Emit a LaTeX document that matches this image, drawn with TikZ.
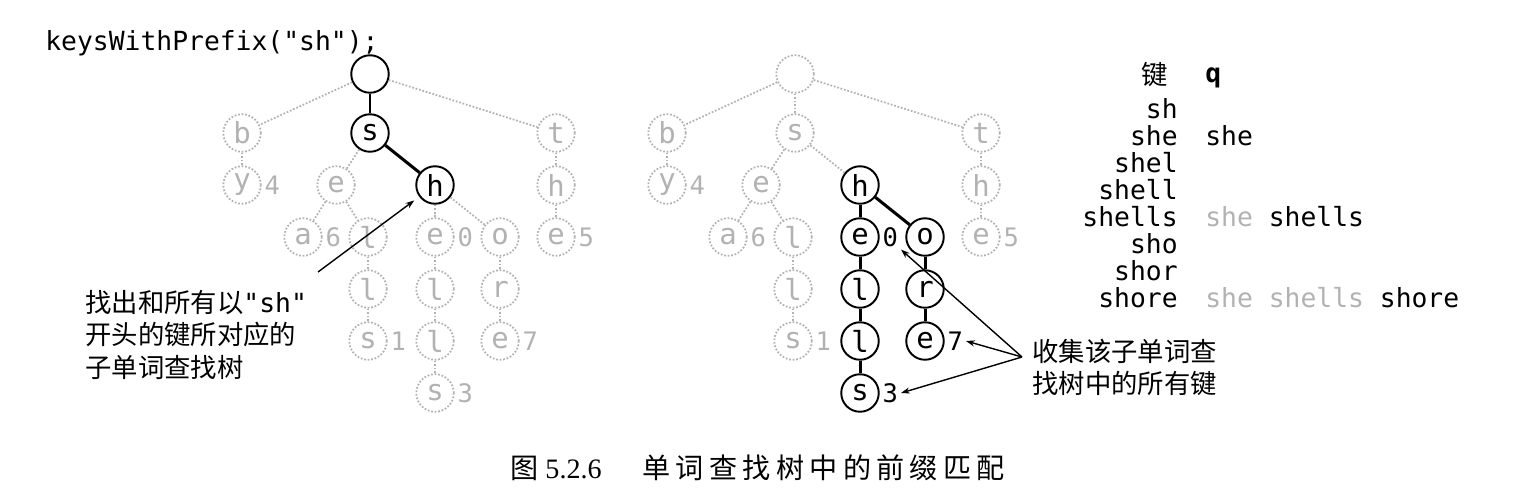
\documentclass[tikz,border=0pt]{standalone}
\usepackage{fontspec}
\setmainfont{Liberation Serif}
\setmonofont{DejaVu Sans Mono}
\newfontfamily\cjk{Noto Sans CJK SC}
\newfontfamily\cjkcap[LetterSpace=19]{Noto Sans CJK SC}
\usepackage{xcolor}
\usetikzlibrary{arrows.meta,positioning}
\definecolor{fadegray}{gray}{0.7}

\begin{document}
\begin{tikzpicture}[x=0.02cm, y=-0.02cm,
    trienode/.style={circle, minimum size=0.75cm, inner sep=0pt, font=\fontsize{16.5}{19}\ttfamily},
    hinode/.style={trienode, draw=black, line width=1.1pt},
    dimnode/.style={trienode, draw=fadegray, densely dotted, line width=1pt, text=fadegray},
    hiedge/.style={line width=1.7pt},
    dimedge/.style={draw=fadegray, densely dotted, line width=1pt},
    hival/.style={inner sep=1.5pt, font=\fontsize{14.5}{17}\ttfamily},
    dimval/.style={hival, text=fadegray},
    pointer/.style={-{Stealth[length=5pt,width=3.5pt]}, line width=0.8pt},
    note/.style={align=left, inner sep=0pt, font=\cjk\fontsize{15}{18.4}\selectfont},
    mono/.style={inner sep=0pt, font=\fontsize{15}{18}\ttfamily}
]
\useasboundingbox (0,0) rectangle (1535,494);

\node[mono, anchor=base west] (call) at (45,50) {keysWithPrefix("sh");};

% left trie: the search goes down to the node for "sh"
\begin{scope}[shift={(370,74)}, name prefix=L]
  \foreach \n/\x/\y/\ch/\st in {root/0/0//hinode, b/-128/59/b/dimnode, s/0/59/s/hinode,
      t/186/59/t/dimnode, y/-128/111/y/dimnode, e/-34/111/e/dimnode, h/65/111/h/hinode,
      th/186/111/h/dimnode, a/-67/163/a/dimnode, el/-2/163/l/dimnode, he/65/163/e/dimnode,
      o/130/163/o/dimnode, the/186/163/e/dimnode, ell/-2/215/l/dimnode, hel/65/215/l/dimnode,
      r/130/215/r/dimnode, ells/-2/267/s/dimnode, hell/65/267/l/dimnode, re/130/267/e/dimnode,
      hells/65/319/s/dimnode}
    \node[\st] (\n) at (\x,\y) {\ch};
  \foreach \a/\b/\st in {root/b/dimedge, root/s/hiedge, root/t/dimedge, b/y/dimedge,
      s/e/dimedge, s/h/hiedge, e/a/dimedge, e/el/dimedge, el/ell/dimedge, ell/ells/dimedge,
      h/he/dimedge, h/o/dimedge, he/hel/dimedge, hel/hell/dimedge, hell/hells/dimedge,
      o/r/dimedge, r/re/dimedge, t/th/dimedge, th/the/dimedge}
    \draw[\st] (\a) -- (\b);
  \foreach \n/\v/\st in {y/4/dimval, a/6/dimval, ells/1/dimval, he/0/dimval,
      hells/3/dimval, re/7/dimval, the/5/dimval}
    \node[\st, anchor=west] (v\n) at (\n.east) {\v};
\end{scope}

% right trie: collect every key below that node
\begin{scope}[shift={(795,74)}, name prefix=R]
  \foreach \n/\x/\y/\ch/\st in {root/0/0//dimnode, b/-128/59/b/dimnode, s/0/59/s/dimnode,
      t/186/59/t/dimnode, y/-128/111/y/dimnode, e/-34/111/e/dimnode, h/65/111/h/hinode,
      th/186/111/h/dimnode, a/-67/163/a/dimnode, el/-2/163/l/dimnode, he/65/163/e/hinode,
      o/130/163/o/hinode, the/186/163/e/dimnode, ell/-2/215/l/dimnode, hel/65/215/l/hinode,
      r/130/215/r/hinode, ells/-2/267/s/dimnode, hell/65/267/l/hinode, re/130/267/e/hinode,
      hells/65/319/s/hinode}
    \node[\st] (\n) at (\x,\y) {\ch};
  \foreach \a/\b/\st in {root/b/dimedge, root/s/dimedge, root/t/dimedge, b/y/dimedge,
      s/e/dimedge, s/h/dimedge, e/a/dimedge, e/el/dimedge, el/ell/dimedge, ell/ells/dimedge,
      h/he/hiedge, h/o/hiedge, he/hel/hiedge, hel/hell/hiedge, hell/hells/hiedge,
      o/r/hiedge, r/re/hiedge, t/th/dimedge, th/the/dimedge}
    \draw[\st] (\a) -- (\b);
  \foreach \n/\v/\st in {y/4/dimval, a/6/dimval, ells/1/dimval, he/0/hival,
      hells/3/hival, re/7/hival, the/5/dimval}
    \node[\st, anchor=west] (v\n) at (\n.east) {\v};
\end{scope}

% notes
\node[note, anchor=north west] (findnote) at (85,290) {找出和所有以{\ttfamily "sh"}\\开头的键所对应的\\子单词查找树};
\coordinate (lookup) at (318,272);
\draw[pointer, shorten >=3.5pt] (lookup) -- (Lh);

\node[note, anchor=north west] (collectnote) at (1032,339) {收集该子单词查\\找树中的所有键};
\coordinate (collect) at (1022,357);
\draw[pointer] (collect) -- (Rvhe.south east);
\draw[pointer] (collect) -- (Rvre.east);
\draw[pointer] (collect) -- (Rvhells.east);

% table of keys and q
\node[note, anchor=center] (keyhead) at (1155,75) {键};
\node[mono, anchor=base west] (qhead) at (1205,82) {\textbf{q}};
\foreach \k [count=\i] in {sh,she,shel,shell,shells,sho,shor,shore}
  \node[mono, anchor=base east] (key\i) at (1178,{91+27*\i}) {\k};
\node[mono, anchor=base west] (q2) at (1205,145) {she};
\node[mono, anchor=base west] (q5) at (1205,226) {\textcolor{fadegray}{she} shells};
\node[mono, anchor=base west] (q8) at (1205,307) {\textcolor{fadegray}{she shells} shore};

% caption
\node[anchor=west, inner sep=0pt, font=\fontsize{16}{19}\selectfont] (figno) at (510,468) {{\cjk 图}\hspace{4pt}5.2.6};
\node[anchor=west, inner sep=0pt, font=\cjkcap\fontsize{16}{19}\selectfont] (figtitle) at (642,468) {单词查找树中的前缀匹配};

\end{tikzpicture}
\end{document}
